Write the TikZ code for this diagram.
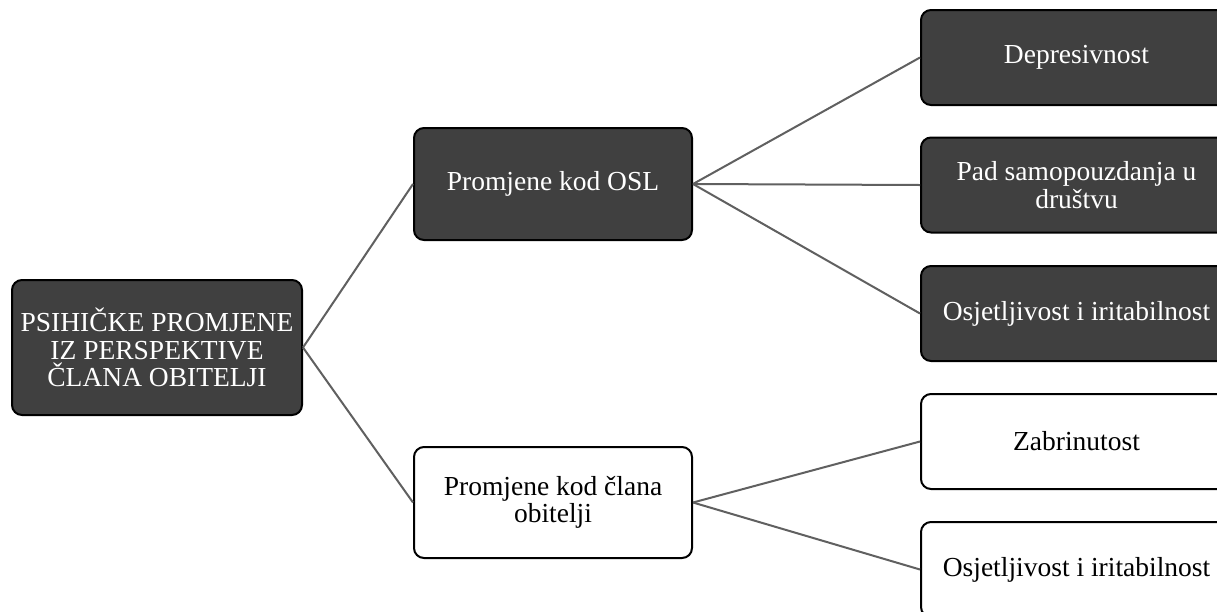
\documentclass[tikz,border=0pt]{standalone}
\usepackage{fontspec}
\setmainfont{Liberation Serif}
\definecolor{boxdark}{RGB}{64,64,64}
\definecolor{edgegray}{RGB}{96,96,96}
\tikzset{
  box/.style={draw=black, line width=2pt, rounded corners=10pt, inner sep=0pt,
    align=center, font=\fontsize{27.5}{27.5}\selectfont},
  darkbox/.style={box, fill=boxdark, text=white},
  lightbox/.style={box, fill=white, text=black},
  conn/.style={draw=edgegray, line width=2pt},
}
\begin{document}
\begin{tikzpicture}[x=1pt,y=-1pt]
\useasboundingbox (0,0) rectangle (1217,611);
\clip (0,0) rectangle (1217,611);
\fill[white] (0,0) rectangle (1217,611);
\node[darkbox, minimum width=290pt, minimum height=135pt] (root) at (157,347.5)
  {PSIHIČKE PROMJENE\\IZ PERSPEKTIVE\\ČLANA OBITELJI};
\node[darkbox, minimum width=278pt, minimum height=112pt] (osl) at (553,184)
  {Promjene kod OSL};
\node[lightbox, minimum width=278pt, minimum height=111pt] (clan) at (553,502.5)
  {Promjene kod člana\\obitelji};
\node[darkbox, minimum width=311pt, minimum height=95pt] (r1) at (1076.5,57.5)
  {Depresivnost};
\node[darkbox, minimum width=311pt, minimum height=95pt] (r2) at (1076.5,185)
  {Pad samopouzdanja u\\društvu};
\node[darkbox, minimum width=311pt, minimum height=95pt] (r3) at (1076.5,313.5)
  {Osjetljivost i iritabilnost};
\node[lightbox, minimum width=311pt, minimum height=95pt] (r4) at (1076.5,441.5)
  {Zabrinutost};
\node[lightbox, minimum width=311pt, minimum height=95pt] (r5) at (1076.5,569.5)
  {Osjetljivost i iritabilnost};
\draw[conn] (root.east) -- (osl.west);
\draw[conn] (root.east) -- (clan.west);
\draw[conn] (osl.east) -- (r1.west);
\draw[conn] (osl.east) -- (r2.west);
\draw[conn] (osl.east) -- (r3.west);
\draw[conn] (clan.east) -- (r4.west);
\draw[conn] (clan.east) -- (r5.west);
\end{tikzpicture}
\end{document}
